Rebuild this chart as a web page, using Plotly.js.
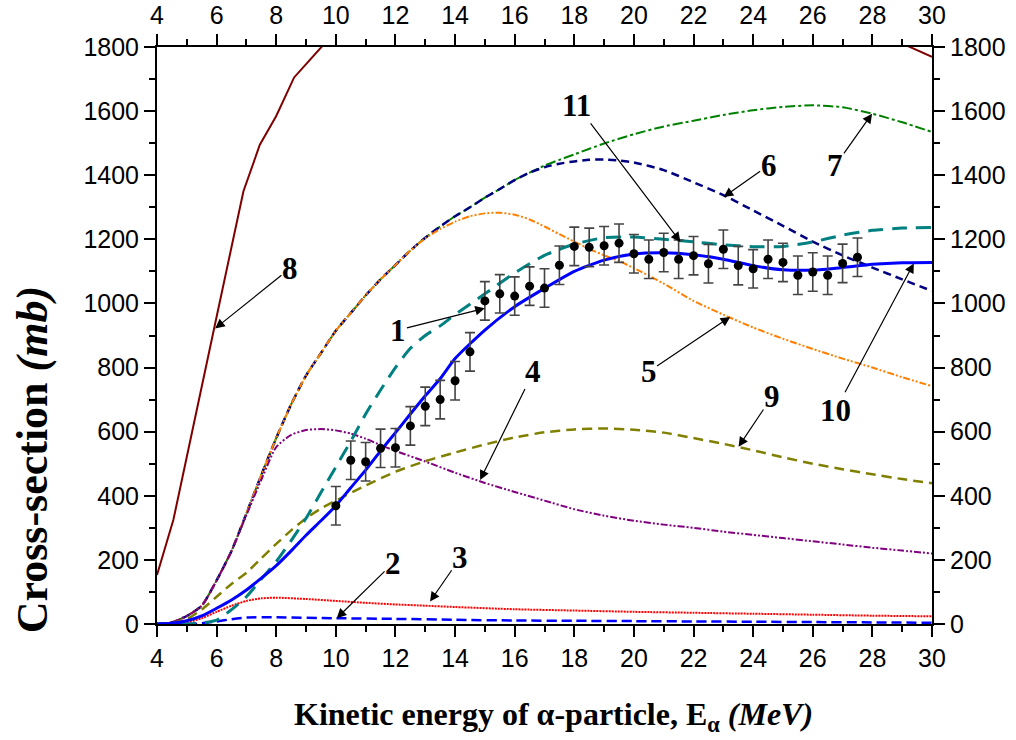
<!DOCTYPE html>
<html>
<head>
<meta charset="utf-8">
<script src="https://cdn.plot.ly/plotly-3.0.1.min.js"></script>
<style>html,body{margin:0;padding:0;background:#fff}#chart{width:1016px;height:740px}</style>
</head>
<body>
<div id="chart"></div>
<script>
// ---- Data ----
// Curve 1: blue solid
const c1_E = [4,4.5,5,5.5,6,6.5,7,7.5,8,8.5,9,9.5,10,10.5,11,11.5,12,12.5,13,13.5,14,15,16,17,18,19,20,21,22,23,24,25,26,27,28,29,30];
const c1_S = [0,2,10,25,49,75,106,143,182,228,277,322,369,425,480,540,597,655,712,765,828,917,990,1047,1100,1135,1154,1158,1152,1138,1118,1105,1104,1112,1122,1127,1128];
// Curve 2: blue dashed (small)
const c2_E = [4,5,5.5,6,6.5,7,8,10,12,14,16,18,20,22,24,26,28,30];
const c2_S = [0,0,2,8,15,20,21,18,16,13,11,10,9,8,7,6,5,4];
// Curve 3: red dotted
const c3_E = [4,5,5.5,6,6.5,7,7.5,8,9,10,11,12,13,14,16,18,20,22,24,26,28,30];
const c3_S = [0,5,18,38,57,72,80,82,78,72,66,61,57,53,46,42,38,35,32,29,26,24];
// Curve 4: purple dash-dot-dot
const c4_E = [4,4.5,5,5.5,6,6.5,7,7.5,8,8.5,9,9.5,10,10.5,11,11.5,12,13,14,15,16,17,18,19,20,21,22,23,24,25,26,27,28,29,30];
const c4_S = [0,5,25,57,136,228,340,450,552,590,605,608,604,594,578,558,540,507,472,440,412,385,358,338,322,310,300,288,278,268,258,248,238,229,220];
// Curve 5: orange dash-dot-dot
const c5_E = [4,4.5,5,5.5,6,6.5,7,7.5,8,8.5,9,9.5,10,10.5,11,11.5,12,12.5,13,13.5,14,14.5,15,15.5,16,16.5,17,17.5,18,18.5,19,19.5,20,21,22,23,24,25,26,27,28,29,30];
const c5_S = [0,5,25,57,136,228,345,465,580,685,775,845,915,970,1025,1075,1120,1165,1203,1232,1255,1272,1281,1283,1277,1262,1240,1216,1193,1170,1150,1132,1110,1062,1008,965,925,890,858,828,800,770,742];
// Curve 6: navy dashed
const c6_E = [4,4.5,5,5.5,6,6.5,7,7.5,8,8.5,9,9.5,10,10.5,11,11.5,12,12.5,13,13.5,14,14.5,15,15.5,16,16.5,17,17.5,18,18.5,19,19.5,20,21,22,23,24,25,26,27,28,29,30];
const c6_S = [0,5,25,57,136,228,345,465,580,685,775,845,915,970,1025,1075,1120,1165,1205,1240,1272,1300,1330,1357,1385,1408,1425,1436,1443,1448,1449,1446,1440,1416,1378,1338,1290,1242,1193,1150,1112,1075,1039];
// Curve 7: green dash-dot
const c7_E = [4,4.5,5,5.5,6,6.5,7,7.5,8,8.5,9,9.5,10,10.5,11,11.5,12,12.5,13,13.5,14,14.5,15,15.5,16,16.5,17,17.5,18,19,20,21,22,23,24,25,26,27,28,29,30];
const c7_S = [0,5,25,57,136,228,345,465,580,685,775,845,915,970,1025,1075,1120,1165,1205,1240,1272,1300,1330,1357,1385,1408,1430,1448,1465,1499,1528,1552,1570,1588,1603,1613,1618,1612,1592,1565,1535];
// Curve 8: dark red solid (leaves the frame at the top)
const c8_E = [4,4.55,5.9,6.9,7.45,8.0,8.6,9.5,10,null,29,30];
const c8_S = [153,325,915,1350,1495,1585,1705,1800,1850,null,1811,1769];
// Curve 9: olive dashed
const c9_E = [4,4.5,5,5.5,6,6.5,7,7.5,8,8.5,9,9.5,10,11,12,13,14,15,16,17,18,19,20,21,22,23,24,25,26,27,28,29,30];
const c9_S = [0,3,15,45,85,125,160,205,250,292,330,360,385,432,475,508,535,560,582,598,607,610,606,597,580,562,542,520,500,483,467,452,439];
// Curve 10: teal long dashed
const c10_E = [4,5,5.5,6,6.5,7,7.5,8,8.5,9,9.5,10,10.5,11,11.5,12,12.5,13,13.5,14,15,16,17,18,19,20,21,22,23,24,25,26,27,28,29,30];
const c10_S = [0,0,3,12,45,85,140,195,260,330,410,490,570,655,730,800,860,900,930,965,1030,1095,1150,1185,1205,1207,1200,1192,1183,1177,1178,1192,1213,1228,1235,1237];
// Experimental points with errors
const exp_E = [10,10.5,11,11.5,12,12.5,13,13.5,14,14.5,15,15.5,16,16.5,17,17.5,18,18.5,19,19.5,20,20.5,21,21.5,22,22.5,23,23.5,24,24.5,25,25.5,26,26.5,27,27.5];
const exp_S = [369,511,506,548,550,618,679,700,759,849,1008,1030,1023,1054,1048,1119,1178,1175,1180,1188,1155,1138,1159,1138,1149,1124,1169,1118,1108,1138,1128,1088,1098,1088,1125,1144];
const exp_err = [60,60,60,60,60,60,60,60,60,60,60,60,60,60,60,60,60,60,60,60,60,60,60,60,60,60,60,60,60,60,60,60,60,60,60,60];

// Curve labels: text, label centre (E, sigma), arrow head (E, sigma)
const labelText = ['1','2','3','4','5','6','7','8','9','10','11'];
const labelPos = [[12.1,917],[11.92,190],[14.17,206],[16.63,787],[20.49,787],[24.52,1431],[26.76,1431],[8.46,1109],[24.63,709],[26.76,667],[18.09,1618]];
const arrowHead = [[15.0,985],[10.03,18],[13.16,70],[14.84,449],[23.23,958],[23.01,1332],[27.99,1592],[5.95,922],[23.51,553],[29.39,1125],[21.56,1192]];

const xTicks = [4,6,8,10,12,14,16,18,20,22,24,26,28,30];
const yTicks = [0,200,400,600,800,1000,1200,1400,1600,1800];

// ---- Traces ----
const sp = {shape:'spline', smoothing:0.6};
function line(x,y,color,width,dash,shape){
  return {x:x,y:y,type:'scatter',mode:'lines',showlegend:false,hoverinfo:'skip',
    line:Object.assign({color:color,width:width,dash:dash}, shape===false?{shape:'linear'}:sp)};
}
const traces = [
  line(c8_E,c8_S,'#800000',2,'solid',false),
  line(c7_E,c7_S,'#008000',2,'10px,3px,3px,3px'),
  line(c6_E,c6_S,'#000080',2.5,'8px,5px'),
  line(c5_E,c5_S,'#ff8000',2,'7px,2px,2px,2px,2px,2px'),
  line(c4_E,c4_S,'#800080',2,'7px,2px,2px,2px,2px,2px'),
  line(c9_E,c9_S,'#808000',2.5,'10px,6px'),
  line(c3_E,c3_S,'#ff0000',2,'2px,1px'),
  line(c2_E,c2_S,'#0000ff',2.5,'10px,5px'),
  line(c10_E,c10_S,'#008080',3,'15px,9px'),
  line(c1_E,c1_S,'#0000ff',3,'solid'),
  {x:exp_E,y:exp_S,type:'scatter',mode:'markers',showlegend:false,hoverinfo:'skip',
   marker:{color:'#000',size:9},
   error_y:{type:'data',array:exp_err,visible:true,color:'#444',thickness:1.6,width:5}},
  {x:[null],y:[null],xaxis:'x2',yaxis:'y2',type:'scatter',mode:'lines',showlegend:false,hoverinfo:'skip'}
];

// ---- Annotations: label text sits at the arrow tail ----
const annotations = [];
for (let i=0;i<labelText.length;i++){
  annotations.push({x:arrowHead[i][0],y:arrowHead[i][1],ax:labelPos[i][0],ay:labelPos[i][1],
    xref:'x',yref:'y',axref:'x',ayref:'y',text:'<b>'+labelText[i]+'</b>',showarrow:true,
    arrowhead:2,arrowsize:1.6,arrowwidth:1.2,arrowcolor:'#000',standoff:0,borderpad:0,
    font:{family:'Liberation Serif, Times New Roman, serif',size:31,color:'#000'}});
}
annotations.push({xref:'paper',yref:'paper',x:-0.161,y:0.284,textangle:-90,showarrow:false,xanchor:'center',yanchor:'middle',
  text:'<b>Cross-section <i>(mb)</i></b>',font:{family:'Liberation Serif, Times New Roman, serif',size:44,color:'#000'}});
annotations.push({xref:'paper',yref:'paper',x:0.512,y:-0.161,showarrow:false,xanchor:'center',yanchor:'middle',
  text:'<b>Kinetic energy of α-particle, E<sub>α</sub> <i>(MeV)</i></b>',font:{family:'Liberation Serif, Times New Roman, serif',size:32,color:'#000'}});

const tickFont = {family:'Liberation Sans, Arial, sans-serif',size:25,color:'#000'};
const axCommon = {showgrid:false,zeroline:false,showline:true,linecolor:'#000',linewidth:2,
  ticks:'outside',ticklen:11,tickwidth:2,tickcolor:'#000',tickfont:tickFont};
const xCommon = Object.assign({},axCommon,{range:[4,30],tickvals:xTicks,minor:{dtick:1,ticks:'outside',ticklen:6,tickwidth:2,tickcolor:'#000',showgrid:false}});
const yCommon = Object.assign({},axCommon,{range:[0,1800],tickvals:yTicks,minor:{dtick:100,ticks:'outside',ticklen:6,tickwidth:2,tickcolor:'#000',showgrid:false}});

const layout = {
  width:1016,height:740,
  margin:{l:157,r:84,t:47,b:116},
  paper_bgcolor:'#fff',plot_bgcolor:'#fff',
  showlegend:false,
  xaxis:Object.assign({},xCommon,{side:'bottom'}),
  yaxis:Object.assign({},yCommon,{side:'left'}),
  xaxis2:Object.assign({},xCommon,{side:'top',overlaying:'x',anchor:'y'}),
  yaxis2:Object.assign({},yCommon,{side:'right',overlaying:'y',anchor:'x'}),
  annotations:annotations
};

Plotly.newPlot('chart',traces,layout,{staticPlot:true,displayModeBar:false});
</script>
</body>
</html>
